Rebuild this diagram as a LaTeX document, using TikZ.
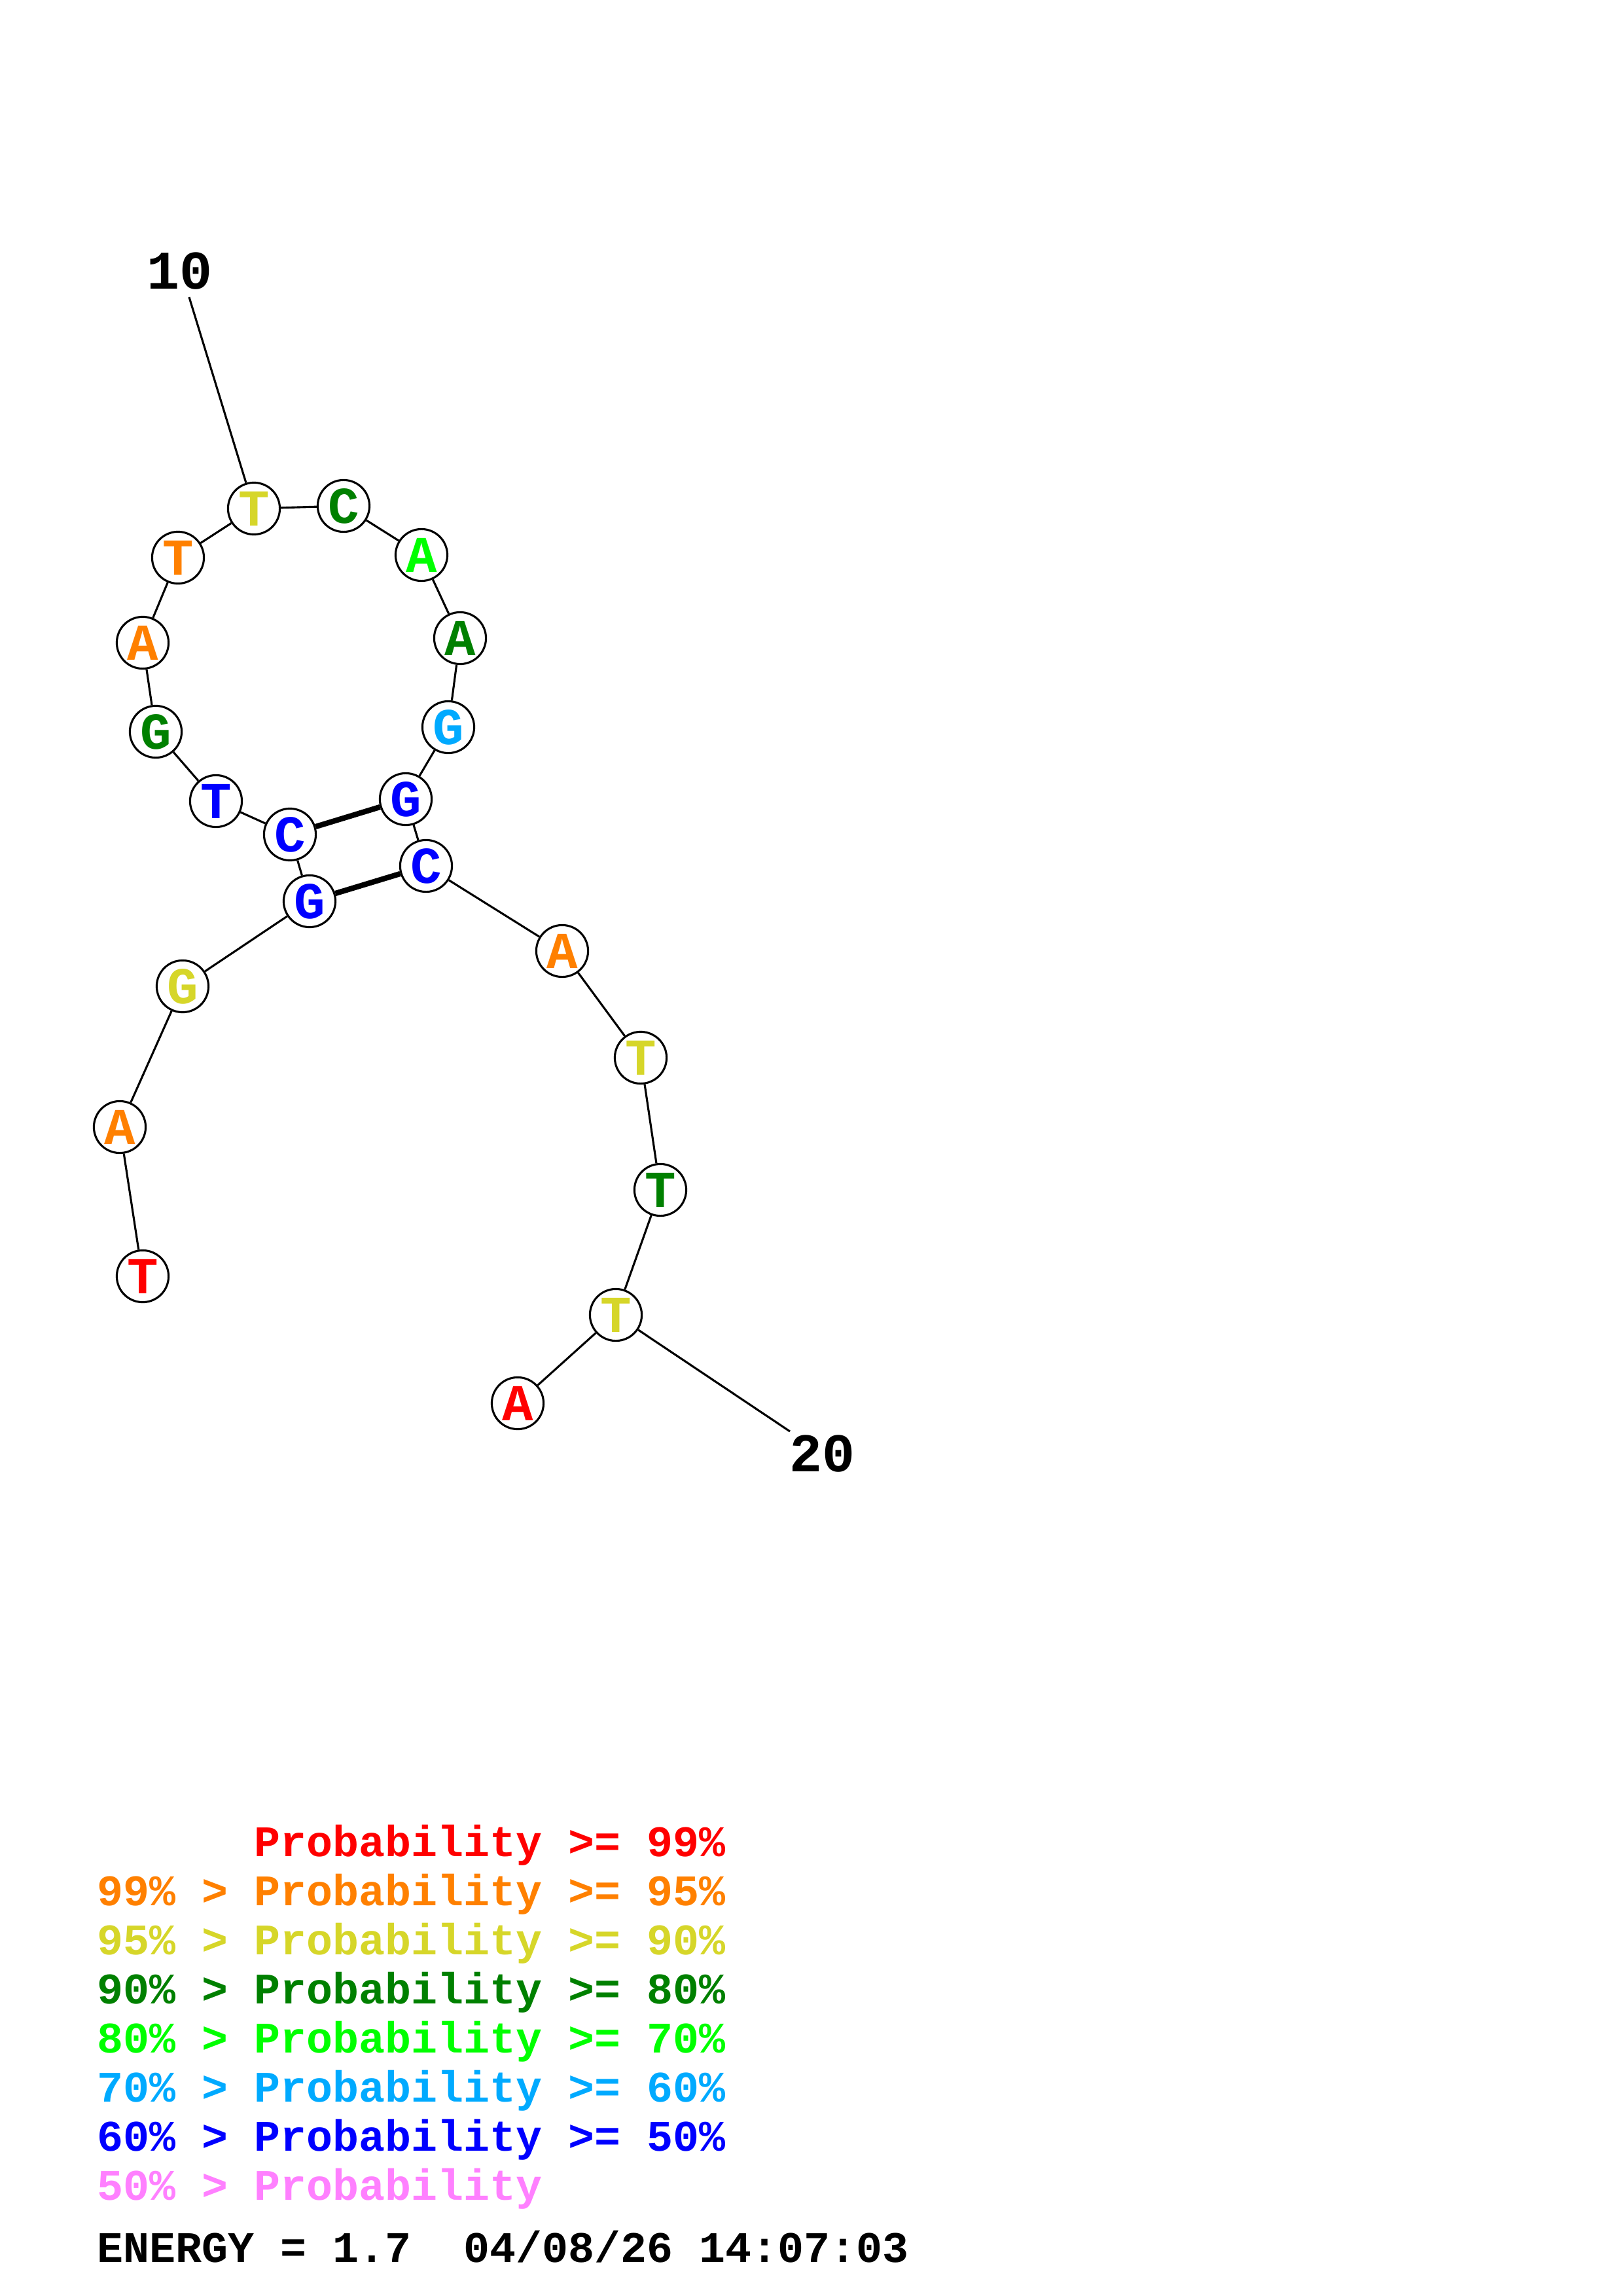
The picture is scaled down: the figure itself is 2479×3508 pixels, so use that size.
\documentclass[tikz,border=0pt]{standalone}
\usepackage{fontspec}
\newfontfamily\cour{Liberation Mono}
\definecolor{pr99}{RGB}{255,0,0}
\definecolor{pr95}{RGB}{255,128,0}
\definecolor{pr90}{RGB}{214,214,41}
\definecolor{pr80}{RGB}{0,128,0}
\definecolor{pr70}{RGB}{0,255,0}
\definecolor{pr60}{RGB}{0,170,255}
\definecolor{pr50}{RGB}{0,0,255}
\definecolor{prlow}{RGB}{255,128,255}
\begin{document}
\begin{tikzpicture}[x=0.24pt,y=-0.24pt,
  nt/.style={circle,draw=black,line width=0.75pt,fill=white,minimum size=19pt,inner sep=0pt,
    font=\cour\bfseries\fontsize{19}{19}\selectfont,text height=12.8pt,text depth=0pt},
  bb/.style={line width=0.75pt},
  bp/.style={line width=2pt},
  leg/.style={anchor=base west,inner sep=0pt,font=\cour\bfseries\fontsize{16}{16}\selectfont},
  num/.style={anchor=base,inner sep=0pt,font=\cour\bfseries\fontsize{20}{20}\selectfont}]
\useasboundingbox[fill=white] (0,0) rectangle (2479,3508);

% nucleotides
\node[nt,text=pr99] (n1)  at (218,1950) {T};
\node[nt,text=pr95] (n2)  at (183,1722) {A};
\node[nt,text=pr90] (n3)  at (279,1507) {G};
\node[nt,text=pr50] (n4)  at (473,1377) {G};
\node[nt,text=pr50] (n5)  at (443,1275) {C};
\node[nt,text=pr50] (n6)  at (330,1224) {T};
\node[nt,text=pr80] (n7)  at (238,1118) {G};
\node[nt,text=pr95] (n8)  at (218,982)  {A};
\node[nt,text=pr95] (n9)  at (272,852)  {T};
\node[nt,text=pr90] (n10) at (388,777)  {T};
\node[nt,text=pr80] (n11) at (525,773)  {C};
\node[nt,text=pr70] (n12) at (644,848)  {A};
\node[nt,text=pr80] (n13) at (703,975)  {A};
\node[nt,text=pr60] (n14) at (685,1111) {G};
\node[nt,text=pr50] (n15) at (620,1221) {G};
\node[nt,text=pr50] (n16) at (651,1323) {C};
\node[nt,text=pr95] (n17) at (859,1453) {A};
\node[nt,text=pr90] (n18) at (979,1616) {T};
\node[nt,text=pr80] (n19) at (1009,1818) {T};
\node[nt,text=pr90] (n20) at (941,2009) {T};
\node[nt,text=pr99] (n21) at (791,2144) {A};

% backbone
\draw[bb] (n1) -- (n2);
\draw[bb] (n2) -- (n3);
\draw[bb] (n3) -- (n4);
\draw[bb] (n4) -- (n5);
\draw[bb] (n5) -- (n6);
\draw[bb] (n6) -- (n7);
\draw[bb] (n7) -- (n8);
\draw[bb] (n8) -- (n9);
\draw[bb] (n9) -- (n10);
\draw[bb] (n10) -- (n11);
\draw[bb] (n11) -- (n12);
\draw[bb] (n12) -- (n13);
\draw[bb] (n13) -- (n14);
\draw[bb] (n14) -- (n15);
\draw[bb] (n15) -- (n16);
\draw[bb] (n16) -- (n17);
\draw[bb] (n17) -- (n18);
\draw[bb] (n18) -- (n19);
\draw[bb] (n19) -- (n20);
\draw[bb] (n20) -- (n21);

% base pairs
\draw[bp] (n5) -- (n15);
\draw[bp] (n4) -- (n16);

% position labels
\node[num] (l10) at (275,442) {10};
\node[num] (l20) at (1256,2248) {20};
\coordinate (e10) at (289,454);
\coordinate (e20) at (1207,2187);
\draw[bb] (e10) -- (n10);
\draw[bb] (n20) -- (e20);

% legend
\node[leg,text=pr99]  (g1) at (148,2836) {\hphantom{99\%\ >\ }Probability\ >=\ 99\%};
\node[leg,text=pr95]  (g2) at (148,2911) {99\%\ >\ Probability\ >=\ 95\%};
\node[leg,text=pr90]  (g3) at (148,2986) {95\%\ >\ Probability\ >=\ 90\%};
\node[leg,text=pr80]  (g4) at (148,3061) {90\%\ >\ Probability\ >=\ 80\%};
\node[leg,text=pr70]  (g5) at (148,3136) {80\%\ >\ Probability\ >=\ 70\%};
\node[leg,text=pr60]  (g6) at (148,3211) {70\%\ >\ Probability\ >=\ 60\%};
\node[leg,text=pr50]  (g7) at (148,3286) {60\%\ >\ Probability\ >=\ 50\%};
\node[leg,text=prlow] (g8) at (148,3361) {50\%\ >\ Probability};
\node[leg,text=black] (en) at (148,3456) {ENERGY\ =\ 1.7\ \ 04/08/26\ 14:07:03};
\end{tikzpicture}
\end{document}
